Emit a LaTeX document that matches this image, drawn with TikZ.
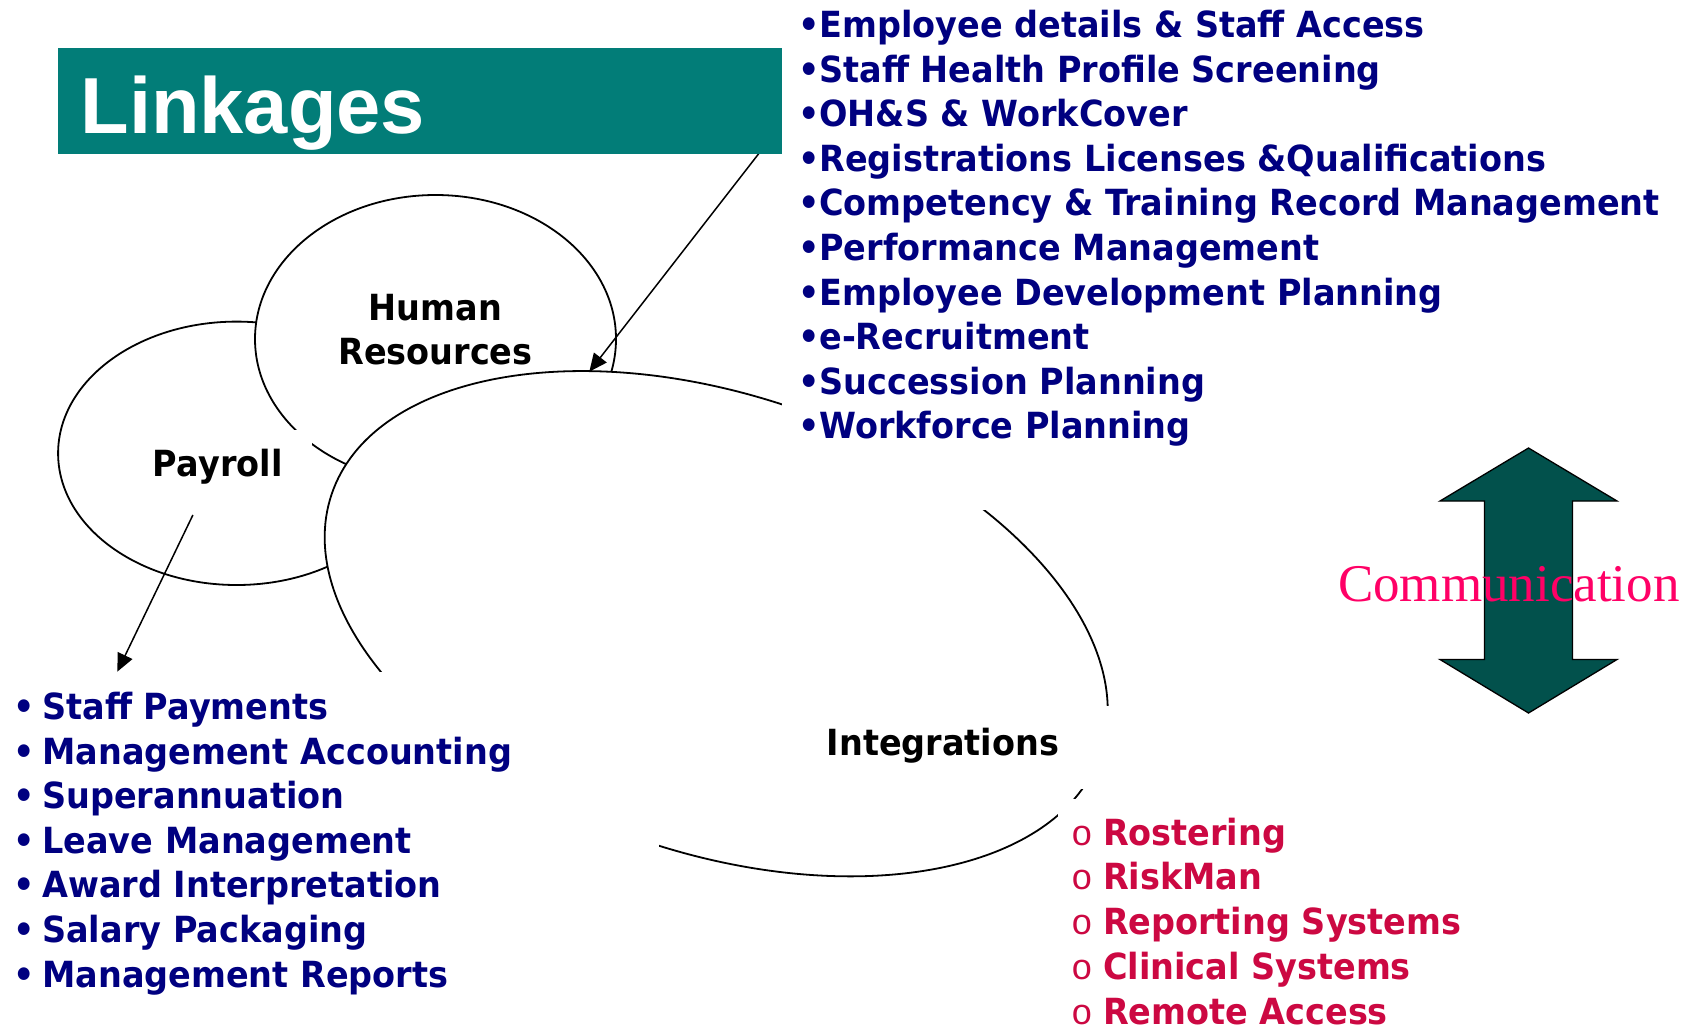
\documentclass[tikz,border=0pt]{standalone}
\usepackage{fontspec}
\usetikzlibrary{shapes.geometric,arrows.meta}
\newfontfamily\titlefont{Liberation Sans}
\newfontfamily\listfont{DejaVu Sans}[FakeStretch=0.93]
\newfontfamily\commfont{Liberation Serif}
\newfontfamily\ringfont{Liberation Mono}
\definecolor{barteal}{RGB}{2,125,120}
\definecolor{listnavy}{RGB}{0,0,128}
\definecolor{listred}{RGB}{204,8,66}
\definecolor{commpink}{RGB}{255,0,102}
\definecolor{arrowteal}{RGB}{2,81,76}
\tikzset{
  ring/.style={draw=black, fill=white, ellipse, inner sep=0pt, outer sep=0pt, line width=1.8pt},
  cover/.style={fill=white, draw=none, inner sep=0pt, outer sep=0pt, anchor=north west},
  txt/.style={inner sep=0pt, outer sep=0pt, anchor=base west},
  lbl/.style={inner sep=0pt, outer sep=0pt, anchor=base, font=\listfont\bfseries\fontsize{36}{36}\selectfont, text=black},
  navyitem/.style={txt, font=\listfont\bfseries\fontsize{36}{36}\selectfont, text=listnavy},
  reditem/.style={txt, font=\listfont\bfseries\fontsize{36}{36}\selectfont, text=listred},
  ringbullet/.style={txt, font=\ringfont\fontsize{36}{36}\selectfont, text=listred},
  conn/.style={draw=black, line width=1.5pt, -{Triangle[length=18pt,width=16pt]}},
  bigarrow/.style={draw=black, fill=arrowteal, line width=1.3pt, line join=miter},
}
\begin{document}
\begin{tikzpicture}[x=1pt,y=-1pt]
\useasboundingbox (0,0) rectangle (1686,1028);
\fill[white] (0,0) rectangle (1686,1028);

% circles
\node[ring, minimum width=357, minimum height=263.4] (payroll) at (236.6,453.3) {};
\node[ring, minimum width=361, minimum height=288] (hr) at (435.5,339) {};
\node[ring, minimum width=811.6, minimum height=457.8, rotate=-18.6] (integ) at (716.2,623.7) {};

% connectors
\coordinate (hrsrc) at (782,123.7);
\coordinate (hrtip) at (589.3,371.7);
\coordinate (paysrc) at (192.9,515);
\coordinate (paytip) at (117.3,671.7);
\draw[conn] (hrsrc) -- (hrtip);
\draw[conn] (paysrc) -- (paytip);

% white text boxes
\node[cover, minimum width=904, minimum height=510] (hrcover) at (782,0) {};
\node[cover, minimum width=189, minimum height=78] (paycover) at (123,430) {};
\node[cover, minimum width=659, minimum height=356] (leftcover) at (0,672) {};
\node[cover, minimum width=345, minimum height=83] (intcover) at (770,706) {};
\node[cover, minimum width=628, minimum height=229] (rocover) at (1058,799) {};

% title
\node[cover, fill=barteal, minimum width=724, minimum height=105.5] (titlebar) at (58,48) {};
\node[txt, font=\titlefont\bfseries\fontsize{79.5}{79.5}\selectfont, text=white] (title) at (80.5,133) {Linkages};

% labels
\node[lbl] (hrlabel1) at (435.5,320.5) {Human};
\node[lbl] (hrlabel2) at (435.5,364.5) {Resources};
\node[lbl] (paylabel) at (217.7,476) {Payroll};
\node[lbl] (intlabel) at (943,755) {Integrations};

% HR list
\foreach \t [count=\i] in {Employee details \& Staff Access, Staff Health Profile Screening, OH\&S \& WorkCover, Registrations Licenses \&Qualifications, Competency \& Training Record Management, Performance Management, Employee Development Planning, e-Recruitment, Succession Planning, Workforce Planning}
  \node[navyitem] (hr\i) at (798,{37.5+(\i-1)*44.6}) {•\t};

% Payroll list
\foreach \t [count=\i] in {Staff Payments, Management Accounting, Superannuation, Leave Management, Award Interpretation, Salary Packaging, Management Reports}
  \node[navyitem] (pb\i) at (13,{719.5+(\i-1)*44.6}) {\makebox[29.3pt][l]{•}\t};

% Integrations list
\foreach \t [count=\i] in {Rostering, RiskMan, Reporting Systems, Clinical Systems, Remote Access}
{
  \node[ringbullet] (ro\i) at (1071,{845+(\i-1)*44.8}) {o};
  \node[reditem] (rt\i) at (1103,{845+(\i-1)*44.8}) {\t};
}

% communication arrow
\draw[bigarrow] (1528.5,448) -- (1617,501) -- (1572.5,501) -- (1572.5,659.5) -- (1617,659.5) -- (1528.5,713) -- (1440,659.5) -- (1484.5,659.5) -- (1484.5,501) -- (1440,501) -- cycle;
\node[txt, font=\commfont\fontsize{53}{53}\selectfont, text=commpink] (comm) at (1338,601) {Communication};
\end{tikzpicture}
\end{document}
